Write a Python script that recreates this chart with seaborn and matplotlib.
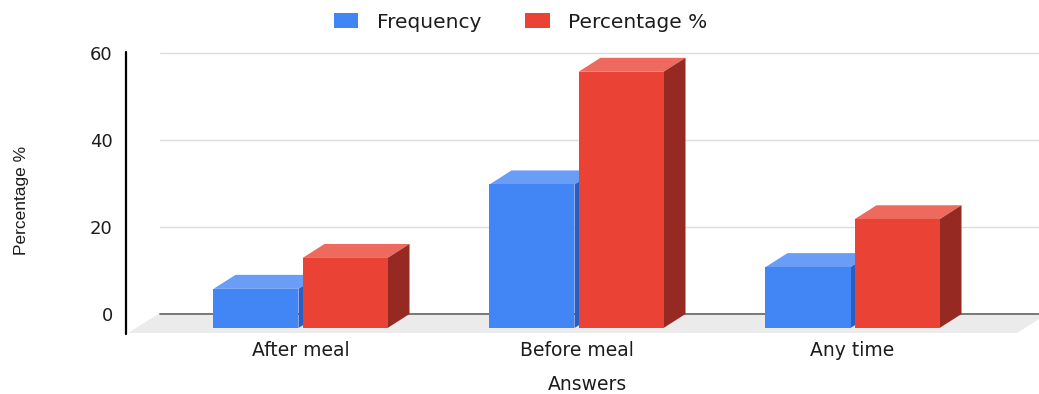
import matplotlib
matplotlib.use("Agg")
import matplotlib.pyplot as plt
import matplotlib.transforms as mtransforms
from matplotlib.patches import Polygon, Patch
from matplotlib.lines import Line2D
import seaborn as sns
import pandas as pd

# ---- data -------------------------------------------------------------
answers = ["After meal", "Before meal", "Any time"]
frequency = [9, 33, 14]
percentage = [16.1, 58.9, 25.0]
series_names = ["Frequency", "Percentage %"]
y_ticks = [0, 20, 40, 60]

# ---- style ------------------------------------------------------------
front_colors = ["#4285F4", "#EA4335"]
top_colors = ["#6A9DF6", "#EE6A5E"]
side_colors = ["#2C5DC2", "#962A23"]
text_color = "#1c1c1c"

W, H, DPI = 1039, 394, 100
DX, DY = 22, 14          # depth of the bars in pixels (right, up)
FLOOR_DX, FLOOR_DY = 32, 20

sns.set_theme(style="white")
plt.rcParams["font.family"] = ["DejaVu Sans"]

df = pd.DataFrame({
    "Answers": answers * 2,
    "Value": frequency + percentage,
    "Series": [series_names[0]] * len(answers) + [series_names[1]] * len(answers),
})

fig = plt.figure(figsize=(W / DPI, H / DPI), dpi=DPI)
# axes box = front plane of the bars
ax_left, ax_right, ax_top, ax_bottom = 128, 1017, 67, 328
ax = fig.add_axes([ax_left / W, (H - ax_bottom) / H,
                   (ax_right - ax_left) / W, (ax_bottom - ax_top) / H])
ax.patch.set_visible(False)

sns.barplot(data=df, x="Answers", y="Value", hue="Series",
            hue_order=series_names, palette=front_colors, saturation=1,
            width=0.645, gap=0.045, legend=False, ax=ax)
ax.set_xlim(-0.625, 2.596)
ax.set_ylim(0, 60)
for s in ax.spines.values():
    s.set_visible(False)

ident = mtransforms.IdentityTransform()
to_disp = ax.transData.transform

def py(y):
    """pixel row (from top) -> display y"""
    return H - y

# floor
floor = Polygon([(ax_left, py(333)), (ax_right, py(333)),
                 (ax_right + FLOOR_DX, py(333 - FLOOR_DY)),
                 (ax_left + FLOOR_DX, py(333 - FLOOR_DY))],
                closed=True, transform=ident, facecolor="#ebebeb",
                edgecolor="none", zorder=0.5, clip_on=False)
ax.add_artist(floor)

# gridlines on the back wall
for v in y_ticks:
    yb = to_disp((0, v))[1] + DY
    ax.add_artist(Line2D([ax_left + FLOOR_DX, W + 5], [yb, yb], transform=ident,
                         color="#707070" if v == 0 else "#dcdcdc",
                         lw=1.3 if v == 0 else 1.0, zorder=1, clip_on=False))

# y axis line
ax.add_artist(Line2D([126, 126], [py(52), py(334)], transform=ident,
                     color="black", lw=1.6, zorder=1, clip_on=False))

# 3D faces for each bar
for i, cont in enumerate(ax.containers):
    for bar in cont:
        bar.set_zorder(3)
        bar.set_edgecolor("none")
        x0, y0 = bar.get_x(), bar.get_y()
        x1, y1 = x0 + bar.get_width(), y0 + bar.get_height()
        (X0, Y0), (X1, Y1) = to_disp((x0, y0)), to_disp((x1, y1))
        top = Polygon([(X0, Y1), (X1, Y1), (X1 + DX, Y1 + DY), (X0 + DX, Y1 + DY)],
                      closed=True, transform=ident, facecolor=top_colors[i],
                      edgecolor="none", zorder=2, clip_on=False)
        side = Polygon([(X1, Y0), (X1, Y1), (X1 + DX, Y1 + DY), (X1 + DX, Y0 + DY)],
                       closed=True, transform=ident, facecolor=side_colors[i],
                       edgecolor="none", zorder=2, clip_on=False)
        ax.add_artist(top)
        ax.add_artist(side)

# ticks
ax.set_yticks(y_ticks)
ax.set_yticklabels([str(t) for t in y_ticks])
ax.tick_params(axis="y", length=0, pad=11, labelsize=13, labelcolor=text_color)
ax.tick_params(axis="x", length=0, pad=9, labelsize=13.5, labelcolor=text_color)
shift = mtransforms.ScaledTranslation(0, DY / DPI, fig.dpi_scale_trans)
for lab in ax.get_yticklabels():
    lab.set_transform(lab.get_transform() + shift)

ax.set_xlabel("")
ax.set_ylabel("")
fig.text(587 / W, 1 - 385 / H, "Answers", ha="center", va="center",
         fontsize=13.5, color=text_color)
fig.text(22 / W, 1 - 200 / H, "Percentage %", ha="center", va="center",
         rotation=90, fontsize=12.5, color=text_color,
         family=["Liberation Sans", "DejaVu Sans"])

handles = [Patch(facecolor=c, edgecolor="none") for c in front_colors]
fig.legend(handles, series_names, loc="center left",
           bbox_to_anchor=(334 / W, 1 - 22 / H), ncol=2, frameon=False,
           fontsize=14.5, handlelength=1.2, handleheight=0.75,
           handletextpad=0.92, columnspacing=2.2, borderpad=0,
           borderaxespad=0, labelcolor=text_color)

fig.savefig("out.png", dpi=DPI)
